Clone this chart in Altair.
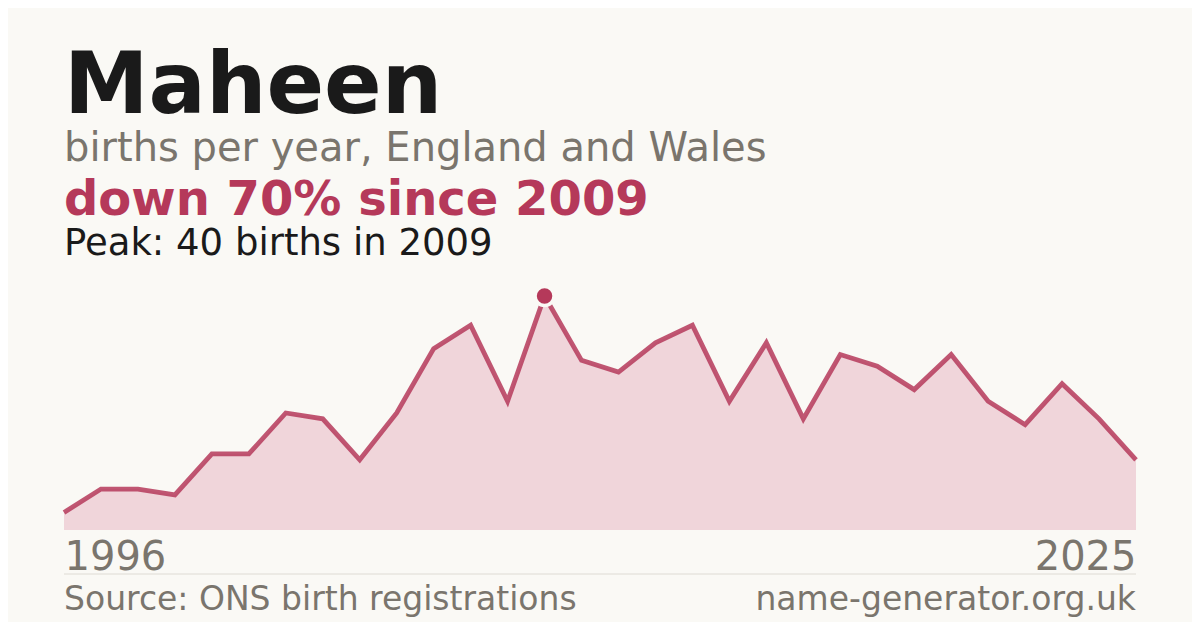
import altair as alt
import pandas as pd

years = list(range(1996, 2026))
births = [3, 7, 7, 6, 13, 13, 20, 19, 12, 20, 31, 35, 22, 40, 29,
          27, 32, 35, 22, 32, 19, 30, 28, 24, 30, 22, 18, 25, 19, 12]

name_title = "Maheen"
subtitle = "births per year, England and Wales"
headline = "down 70% since 2009"
peak_note = "Peak: 40 births in 2009"
source_note = "Source: ONS birth registrations"
site_note = "name-generator.org.uk"
axis_years = [1996, 2025]

BG = "#faf9f5"
RED = "#b5395a"
GREY = "#7a756d"
INK = "#1a1a1a"
FONT = "DejaVu Sans"

W, H = 1072, 234

df = pd.DataFrame({"year": years, "births": births})
peak_df = df[df["births"] == max(births)]

x = alt.X("year:Q", scale=alt.Scale(domain=[1996, 2025], nice=False, zero=False),
          axis=alt.Axis(values=axis_years, format="d", title=None, domain=False, ticks=False,
                        grid=False, labelFlush=True, labelFontSize=40, labelColor=GREY,
                        labelFont=FONT, labelBaseline="alphabetic", labelPadding=39))
y = alt.Y("births:Q", scale=alt.Scale(domain=[0, 40], nice=False, zero=True), axis=None)

area = alt.Chart(df).mark_area(color="#f0d5da", opacity=1).encode(x=x, y=y)
line = alt.Chart(df).mark_line(color=RED, strokeWidth=4.8, opacity=0.85,
                               strokeJoin="miter").encode(x=x, y=y)
peak = alt.Chart(peak_df).mark_point(filled=True, color=RED, size=360, opacity=1,
                                     stroke=BG, strokeWidth=3.5, shape="circle").encode(x=x, y=y)


def text_layer(txt, ypos, size, color, bold=False, align="left", xpos=0):
    return alt.Chart(pd.DataFrame({"t": [txt]})).mark_text(
        align=align, baseline="alphabetic", fontSize=size, font=FONT,
        fontWeight="bold" if bold else "normal", color=color
    ).encode(text="t:N", x=alt.value(xpos), y=alt.value(ypos))


t1 = text_layer(name_title, -183, 85, INK, bold=True)
t2 = text_layer(subtitle, -135, 40, GREY)
t3 = text_layer(headline, -81, 48, RED, bold=True)
t4 = text_layer(peak_note, -41, 37, INK)
f1 = text_layer(source_note, 314, 33, GREY)
f2 = text_layer(site_note, 314, 33, GREY, align="right", xpos=W)

sep = alt.Chart(pd.DataFrame({"a": [0]})).mark_rule(color="#dedbd4", strokeWidth=1).encode(
    x=alt.value(0), x2=alt.value(W), y=alt.value(278))

chart = alt.layer(area, line, peak, sep, t1, t2, t3, t4, f1, f2).properties(
    width=W, height=H, background=BG,
    autosize=alt.AutoSizeParams(type="none"),
    padding={"left": 56, "top": 288, "right": 56, "bottom": 92},
).configure_view(stroke=None)

chart.save("out.html", embed_options={"renderer": "svg", "actions": False})
